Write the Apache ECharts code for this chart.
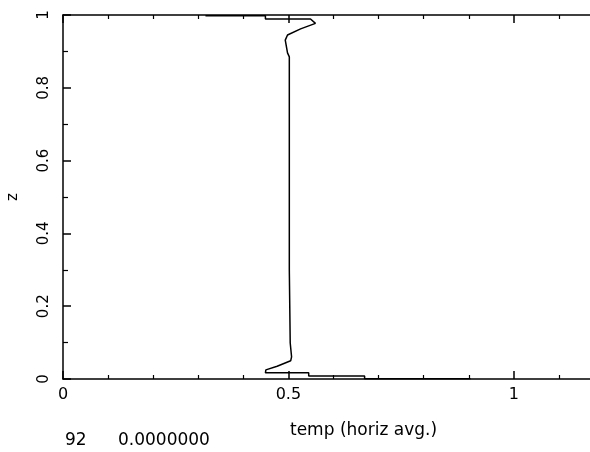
<!DOCTYPE html>
<html>
<head>
<meta charset="utf-8">
<script src="https://cdn.jsdelivr.net/npm/echarts@6/dist/echarts.min.js"></script>
<style>
  html, body { margin: 0; padding: 0; background: #fff; }
  #chart { width: 590px; height: 452px; }
</style>
</head>
<body>
<div id="chart"></div>
<script>
// 温度剖面 (水平平均)
const zValues = [0.001, 0.001, 0.008, 0.008, 0.017, 0.017, 0.025, 0.035, 0.050, 0.061, 0.099,
  0.300, 0.600, 0.885, 0.896, 0.931, 0.945, 0.962, 0.977, 0.989, 0.989, 0.998, 0.998];
const tempValues = [0.904, 0.669, 0.669, 0.545, 0.545, 0.449, 0.450, 0.475, 0.505, 0.507, 0.504,
  0.502, 0.502, 0.502, 0.498, 0.493, 0.498, 0.527, 0.560, 0.549, 0.449, 0.449, 0.316];
const xTicks = ['0', '0.5', '1'];
const yTicks = ['0', '0.2', '0.4', '0.6', '0.8', '1'];
const stepLabel = '92';
const timeLabel = '0.0000000';

const chart = echarts.init(document.getElementById('chart'));
const font = 'DejaVu Sans';
const axisLine = { show: true, lineStyle: { color: '#000', width: 1.5 } };

const option = {
  backgroundColor: '#fff',
  animation: false,
  grid: { left: 63, top: 15, bottom: 73, right: -14, outerBoundsMode: 'none' },
  xAxis: [{
    type: 'value',
    min: 0,
    max: 1.2,
    interval: 0.5,
    axisLine: axisLine,
    axisTick: { inside: true, length: 8, lineStyle: { color: '#000', width: 1.5 } },
    minorTick: { show: true, splitNumber: 5, length: 4, lineStyle: { color: '#000', width: 1.2 } },
    splitLine: { show: false },
    axisLabel: {
      margin: 8, color: '#000', fontFamily: font, fontSize: 16,
      formatter: v => xTicks.includes(String(v)) ? String(v) : ''
    }
  }, {
    type: 'value',
    position: 'top',
    min: 0,
    max: 1.2,
    interval: 0.5,
    axisLine: axisLine,
    axisTick: { inside: true, length: 8, lineStyle: { color: '#000', width: 1.5 } },
    minorTick: { show: true, splitNumber: 5, length: 4, lineStyle: { color: '#000', width: 1.2 } },
    splitLine: { show: false },
    axisLabel: { show: false }
  }],
  yAxis: {
    type: 'value',
    min: 0,
    max: 1,
    interval: 0.2,
    name: 'z',
    nameLocation: 'middle',
    nameGap: 42,
    nameRotate: 90,
    nameTextStyle: { color: '#000', fontFamily: font, fontSize: 15 },
    axisLine: axisLine,
    axisTick: { inside: true, length: 8, lineStyle: { color: '#000', width: 1.5 } },
    minorTick: { show: true, splitNumber: 2, length: 5, lineStyle: { color: '#000', width: 1.2 } },
    splitLine: { show: false },
    axisLabel: {
      rotate: 90, margin: 11, color: '#000', fontFamily: font, fontSize: 15,
      formatter: v => {
        const s = String(Math.round(v * 10) / 10);
        return yTicks.includes(s) ? s : '';
      }
    }
  },
  graphic: [
    { type: 'text', left: 290, top: 422,
      style: { text: 'temp (horiz avg.)', fill: '#000', font: '17px ' + font } },
    { type: 'text', left: 65, top: 432,
      style: { text: stepLabel, fill: '#000', font: '17px ' + font } },
    { type: 'text', left: 118, top: 432,
      style: { text: timeLabel, fill: '#000', font: '17px ' + font } }
  ],
  series: [{
    type: 'line',
    xAxisIndex: 0,
    showSymbol: false,
    lineStyle: { color: '#000', width: 1.5 },
    data: zValues.map((z, i) => [tempValues[i], z])
  }]
};

chart.setOption(option);
</script>
</body>
</html>
